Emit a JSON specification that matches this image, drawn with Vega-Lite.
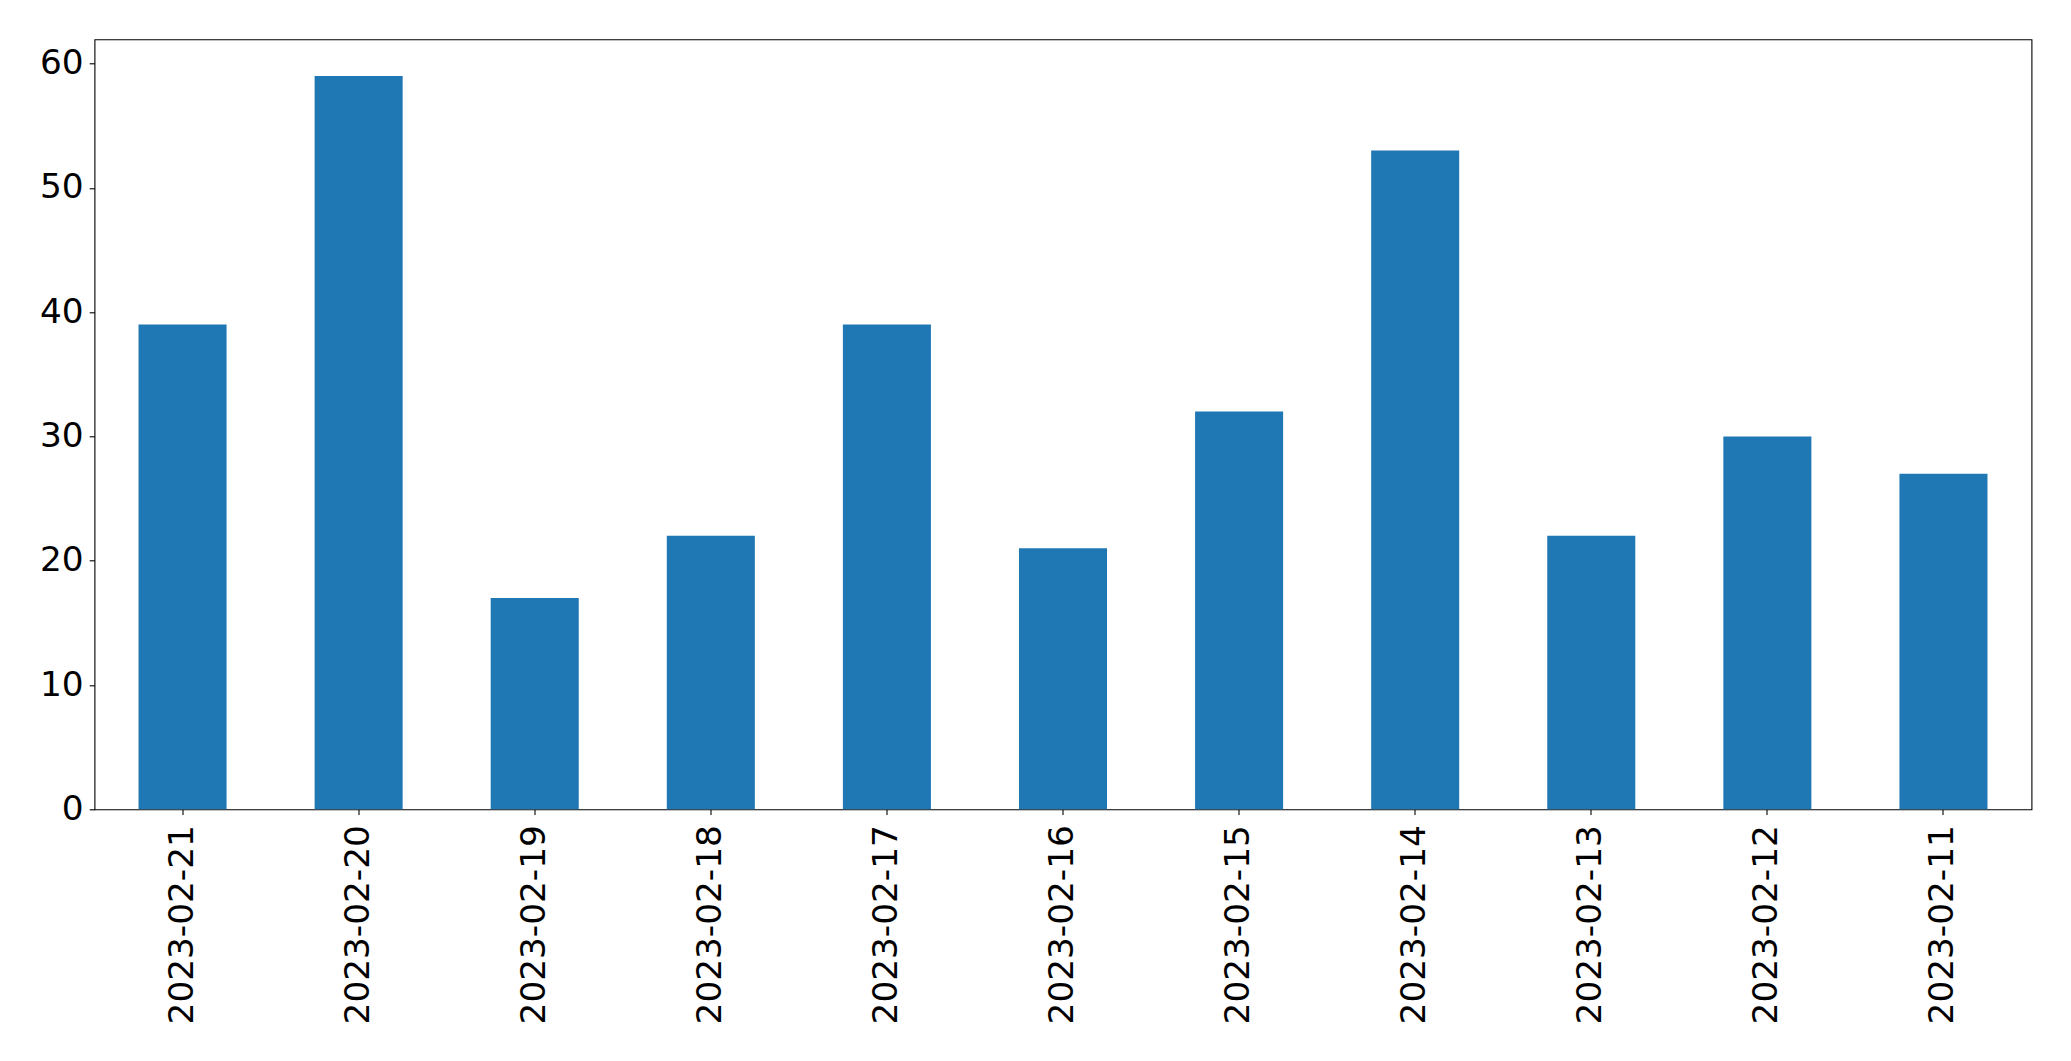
{
  "$schema": "https://vega.github.io/schema/vega-lite/v6.json",
  "autosize": {"type": "none"},
  "padding": {"left": 94.5, "top": 39.3, "right": 39.5, "bottom": 251.7},
  "width": 1937,
  "height": 770,
  "background": "white",
  "config": {
    "view": {"stroke": "black", "strokeWidth": 1.1},
    "font": "DejaVu Sans",
    "axis": {
      "labelFont": "DejaVu Sans",
      "labelFontSize": 34.3,
      "labelColor": "black",
      "labelLimit": 0,
      "labelOverlap": false,
      "tickColor": "black",
      "tickWidth": 1.1,
      "tickSize": 5.3,
      "domain": false,
      "grid": false,
      "title": null
    }
  },
  "data": {
    "values": [
      {"date": "2023-02-21", "count": 39},
      {"date": "2023-02-20", "count": 59},
      {"date": "2023-02-19", "count": 17},
      {"date": "2023-02-18", "count": 22},
      {"date": "2023-02-17", "count": 39},
      {"date": "2023-02-16", "count": 21},
      {"date": "2023-02-15", "count": 32},
      {"date": "2023-02-14", "count": 53},
      {"date": "2023-02-13", "count": 22},
      {"date": "2023-02-12", "count": 30},
      {"date": "2023-02-11", "count": 27}
    ]
  },
  "mark": {"type": "bar", "color": "#1f77b4"},
  "encoding": {
    "x": {
      "field": "date",
      "type": "nominal",
      "sort": null,
      "scale": {"paddingInner": 0.5, "paddingOuter": 0.25},
      "axis": {"labelAngle": -90, "labelAlign": "right", "labelBaseline": "middle", "labelPadding": 10}
    },
    "y": {
      "field": "count",
      "type": "quantitative",
      "scale": {"domain": [0, 61.95], "nice": false},
      "axis": {"values": [0, 10, 20, 30, 40, 50, 60], "labelPadding": 6}
    }
  }
}
